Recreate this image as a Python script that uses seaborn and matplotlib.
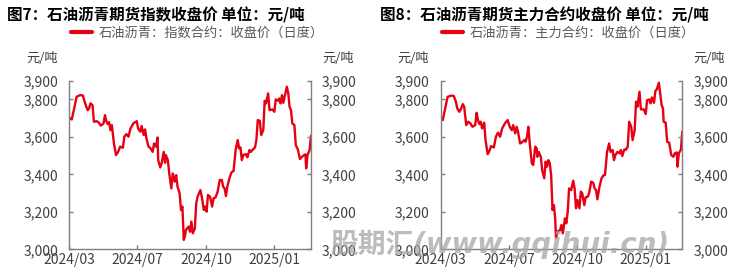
import matplotlib
matplotlib.use("Agg")
import matplotlib.pyplot as plt
import matplotlib.ticker as mticker
import seaborn as sns
import pandas as pd

# ---------------- data ----------------
start_date = "2024-03-25"
# Fig 7: index contract close (days since start, price)
idx_days = [0, 4, 7, 11, 16, 20, 22, 25, 27, 29, 31, 34, 36, 40, 43, 46, 50, 52, 54, 56,
            58, 60, 62, 65, 68, 71, 74, 78, 80, 83, 86, 89, 93, 98, 100, 103, 105, 108, 110, 112,
            115, 118, 121, 123, 126, 128, 129, 132, 134, 137, 139, 140, 143, 145, 148, 150, 153, 155, 157, 160,
            162, 164, 166, 168, 169, 173, 175, 177, 179, 182, 184, 186, 190, 192, 195, 197, 199, 201, 204, 207,
            209, 212, 215, 218, 221, 223, 225, 227, 229, 232, 235, 238, 241, 244, 246, 248, 250, 252, 256, 258,
            261, 263, 266, 269, 271, 273, 276, 278, 281, 283, 285, 288, 290, 294, 297, 299, 302, 304, 306, 308,
            310, 313, 315, 317, 319, 321, 323, 326, 328, 331, 334, 337, 339, 342, 343, 345, 348, 350]
idx_close = [3704, 3693, 3743, 3814, 3823, 3821, 3796, 3761, 3743, 3752, 3779, 3770, 3681, 3684, 3677, 3660, 3672, 3716, 3684, 3668,
             3679, 3636, 3663, 3565, 3503, 3520, 3548, 3542, 3601, 3615, 3601, 3645, 3672, 3684, 3645, 3628, 3658, 3610, 3640, 3592,
             3548, 3539, 3520, 3565, 3548, 3597, 3476, 3437, 3459, 3520, 3462, 3503, 3476, 3405, 3325, 3405, 3361, 3396, 3334, 3299,
             3210, 3228, 3050, 3076, 3103, 3121, 3094, 3148, 3085, 3112, 3245, 3281, 3316, 3281, 3210, 3228, 3201, 3290, 3281, 3228,
             3272, 3277, 3308, 3370, 3370, 3334, 3325, 3284, 3334, 3379, 3411, 3418, 3530, 3583, 3539, 3544, 3476, 3503, 3508, 3491,
             3530, 3520, 3533, 3544, 3583, 3690, 3686, 3610, 3636, 3793, 3779, 3832, 3743, 3747, 3734, 3800, 3793, 3805, 3779, 3823,
             3782, 3832, 3868, 3836, 3761, 3743, 3672, 3663, 3556, 3533, 3482, 3494, 3500, 3507, 3432, 3503, 3530, 3606]

# Fig 8: main contract close
main_days = [0, 3, 6, 10, 16, 19, 22, 24, 27, 29, 32, 34, 37, 40, 43, 46, 50, 52, 54, 56,
             58, 60, 63, 65, 68, 70, 73, 77, 80, 83, 86, 89, 93, 97, 100, 103, 105, 108, 110, 112,
             115, 117, 121, 123, 125, 127, 129, 132, 134, 137, 139, 140, 142, 145, 147, 150, 152, 154, 156, 158,
             160, 162, 164, 166, 167, 169, 173, 175, 177, 180, 182, 184, 186, 189, 192, 194, 196, 198, 201, 203,
             205, 208, 210, 213, 215, 218, 221, 223, 225, 227, 230, 233, 236, 238, 241, 244, 246, 249, 251, 253,
             256, 259, 261, 263, 266, 268, 271, 273, 276, 278, 281, 283, 285, 288, 290, 294, 297, 299, 302, 304,
             306, 309, 311, 313, 316, 318, 320, 322, 323, 326, 328, 331, 334, 337, 339, 342, 343, 345, 348, 350]
main_close = [3708, 3690, 3743, 3814, 3821, 3818, 3788, 3752, 3734, 3747, 3775, 3761, 3663, 3681, 3672, 3654, 3663, 3729, 3690, 3668,
              3681, 3645, 3676, 3583, 3508, 3520, 3551, 3544, 3601, 3623, 3601, 3645, 3672, 3690, 3654, 3636, 3663, 3619, 3654, 3628,
              3565, 3569, 3583, 3574, 3601, 3654, 3565, 3459, 3450, 3548, 3539, 3494, 3520, 3494, 3423, 3379, 3468, 3441, 3476, 3459,
              3396, 3210, 3236, 3157, 3059, 3094, 3103, 3130, 3085, 3165, 3139, 3201, 3325, 3316, 3366, 3325, 3219, 3263, 3219, 3308,
              3299, 3236, 3277, 3281, 3299, 3361, 3355, 3325, 3316, 3267, 3334, 3379, 3396, 3396, 3520, 3565, 3520, 3530, 3476, 3503,
              3520, 3512, 3530, 3498, 3533, 3530, 3548, 3681, 3654, 3583, 3636, 3788, 3761, 3841, 3747, 3747, 3722, 3796, 3800, 3779,
              3811, 3782, 3846, 3853, 3889, 3832, 3770, 3752, 3681, 3676, 3574, 3569, 3503, 3494, 3512, 3517, 3441, 3512, 3533, 3628]

titles = ["图7：石油沥青期货指数收盘价 单位：元/吨", "图8：石油沥青期货主力合约收盘价 单位：元/吨"]
legend_labels = ["石油沥青：指数合约：收盘价（日度）", "石油沥青：主力合约：收盘价（日度）"]
unit_label = "元/吨"
y_ticks = [3000, 3200, 3400, 3600, 3800, 3900]
x_tick_days = [0, 99, 198, 297]
x_tick_labels = ["2024/03", "2024/07", "2024/10", "2025/01"]
watermark = "股期汇(www.gqihui.cn)"

# ---------------- style ----------------
sns.set_theme(style="white")
plt.rcParams["font.family"] = ["Noto Sans CJK SC", "DejaVu Sans"]

RED = "#e60012"
TXT = "#404040"
SPINE = "#7f7f7f"

W, H = 733, 280
fig = plt.figure(figsize=(W / 100, H / 100), dpi=100)

t0 = pd.Timestamp(start_date)
panels = [
    (idx_days, idx_close, 69, 311, 7, 67),
    (main_days, main_close, 440.7, 682.3, 380, 438),
]

for i, (days, vals, x0, x1, tx, lx) in enumerate(panels):
    y_top, y_bot = 80.7, 249.3
    ax = fig.add_axes([x0 / W, 1 - y_bot / H, (x1 - x0) / W, (y_bot - y_top) / H])
    df = pd.DataFrame({"date": t0 + pd.to_timedelta(days, unit="D"), "close": vals})
    sns.lineplot(data=df, x="date", y="close", ax=ax, color=RED, linewidth=1.7, legend=False)
    ax.set_xlim(t0, t0 + pd.Timedelta(days=350))
    ax.set_ylim(3000, 3900)
    ax.set_xlabel("")
    ax.set_ylabel("")
    ax.set_xticks([t0 + pd.Timedelta(days=d) for d in x_tick_days])
    ax.set_xticklabels(x_tick_labels)
    ax.set_yticks(y_ticks)
    fmt = mticker.FuncFormatter(lambda v, p: f"{int(v):,}")
    ax.yaxis.set_major_formatter(fmt)
    for s in ["left", "bottom"]:
        ax.spines[s].set_color(SPINE)
        ax.spines[s].set_linewidth(1.0)
    ax.spines["top"].set_visible(False)
    ax.spines["right"].set_visible(False)
    ax.tick_params(axis="y", direction="in", length=3, width=1, color=SPINE, labelsize=10, labelcolor=TXT, pad=8)
    ax.tick_params(axis="x", direction="in", length=3, width=1, color=SPINE, labelsize=10, labelcolor=TXT, pad=3)
    ax.tick_params(axis="both", left=True, bottom=True)

    ax2 = ax.twinx()
    ax2.set_ylim(3000, 3900)
    ax2.set_yticks(y_ticks)
    ax2.yaxis.set_major_formatter(fmt)
    ax2.spines["right"].set_color(SPINE)
    ax2.spines["right"].set_linewidth(1.0)
    for s in ["left", "top", "bottom"]:
        ax2.spines[s].set_visible(False)
    ax2.tick_params(axis="y", direction="in", length=3, width=1, color=SPINE, labelsize=10, labelcolor=TXT, pad=8, right=True)

    # titles and units
    fig.text(tx / W, 1 - 15 / H, titles[i], fontsize=11.2, fontweight="bold", color="black",
             ha="left", va="center")
    fig.text((x0 - 27) / W, 1 - 58 / H, unit_label, fontsize=9.5, color=TXT, ha="center", va="center")
    fig.text((x1 + 27) / W, 1 - 58 / H, unit_label, fontsize=9.5, color=TXT, ha="center", va="center")

    # legend
    handle = plt.Line2D([], [], color=RED, linewidth=3)
    fig.legend([handle], [legend_labels[i]], loc="center left",
               bbox_to_anchor=(lx / W - 0.011, 1 - 33 / H), frameon=False, fontsize=9.5,
               handlelength=1.6, handletextpad=0.5, labelcolor="#595959")

fig.text(330 / W, 1 - 244 / H, watermark, fontsize=20, fontweight="bold", style="italic",
         color="#a6a6a6", alpha=0.75, ha="left", va="center",
         family=["DejaVu Sans", "Noto Sans CJK SC"], zorder=10)

fig.savefig("out.png", dpi=100)
